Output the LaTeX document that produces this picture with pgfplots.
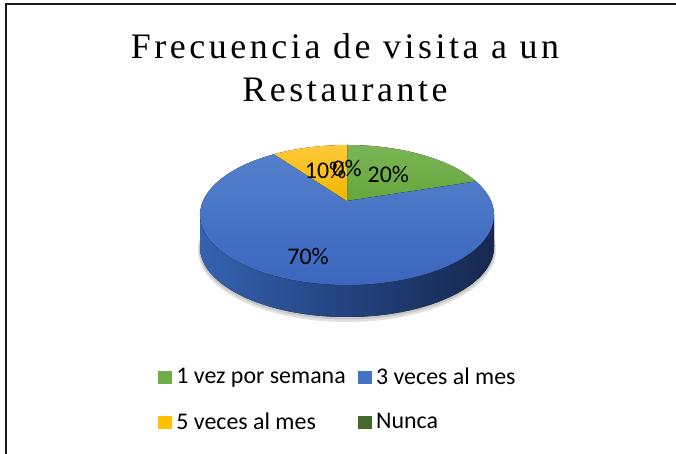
\documentclass[border=0pt]{standalone}
\usepackage{pgfplots}
\pgfplotsset{compat=1.18}
\usepackage{pgfplotstable}
\usepackage{fontspec}
\setmainfont{Carlito}
\newfontfamily\titlefont[LetterSpace=10]{Liberation Serif}

\definecolor{cVerde}{HTML}{70AD47}
\definecolor{cVerdeA}{HTML}{7BB556}
\definecolor{cVerdeB}{HTML}{66A73D}
\definecolor{cAzul}{HTML}{4472C4}
\definecolor{cAzulA}{HTML}{5380CC}
\definecolor{cAzulB}{HTML}{3864BC}
\definecolor{cAmar}{HTML}{FFC000}
\definecolor{cAmarA}{HTML}{FFC93A}
\definecolor{cAmarB}{HTML}{F2B700}
\definecolor{cOscuro}{HTML}{43682B}
\definecolor{sideL}{HTML}{3562B0}
\definecolor{sideM}{HTML}{23427E}
\definecolor{sideR}{HTML}{16284E}

\pgfplotstableread{
etiqueta valor
1 20
3 70
5 10
N 0
}\datos

\newcommand\lblfont{\fontsize{24}{28}\selectfont}

% slice: options, start angle (true), end angle (true)
\newcommand\slice[3]{%
  \pgfmathsetmacro\sA{atan2(sin(#2)+\ee, cos(#2)*\kk)}%
  \pgfmathsetmacro\sB{atan2(sin(#3)+\ee, cos(#3)*\kk)}%
  \pgfmathparse{\sB>\sA ? \sB-360 : \sB}\let\sB\pgfmathresult
  \edef\tmp{\noexpand\fill[#1] (axis cs:\cx,\ay) -- (axis cs:{\cx+\rx*cos(\sA)},{\cy+\ry*sin(\sA)}) arc[start angle=\sA, end angle=\sB, x radius=\rx bp, y radius=\ry bp] -- cycle;}%
  \tmp}
% label: text, mid angle (true), relative radius
\newcommand\lbl[3]{%
  \pgfmathsetmacro\lx{#3*cos(#2)}%
  \pgfmathsetmacro\ly{#3*sin(#2)}%
  \pgfmathsetmacro\dd{1+\ee*\ly}%
  \pgfmathsetmacro\px{\cx+\rx*\lx*\kk/\dd}%
  \pgfmathsetmacro\py{\cy+\ry*(\ly+\ee)/\dd}%
  \edef\tmp{\noexpand\node[font=\noexpand\lblfont, inner sep=0pt] at (axis cs:\px,\py) {\unexpanded{#1}};}%
  \tmp}

\begin{document}
\begin{tikzpicture}
\pgfplotstablegetelem{0}{valor}\of\datos \edef\vA{\pgfplotsretval}
\pgfplotstablegetelem{1}{valor}\of\datos \edef\vB{\pgfplotsretval}
\pgfplotstablegetelem{2}{valor}\of\datos \edef\vC{\pgfplotsretval}
\pgfplotstablegetelem{3}{valor}\of\datos \edef\vD{\pgfplotsretval}
\def\cx{347}\def\cy{239}\def\rx{147}\def\ry{70}\def\ee{0.2}\def\dep{32}
\pgfmathsetmacro\kk{sqrt(1-\ee*\ee)}
\pgfmathsetmacro\ay{\cy+\ry*\ee}
\pgfmathsetmacro\tA{90}
\pgfmathsetmacro\tB{\tA-3.6*\vA}
\pgfmathsetmacro\tC{\tB-3.6*\vB}
\pgfmathsetmacro\tD{\tC-3.6*\vC}
\pgfmathsetmacro\tE{\tD-3.6*\vD}
\begin{axis}[
  x=1bp, y=1bp, xmin=0, xmax=676, ymin=0, ymax=454,
  hide axis, clip=true,
  legend image code/.code={\fill[#1] (0bp,-6bp) rectangle (13bp,6bp);},
  legend columns=2,
  legend cell align=left,
  legend style={draw=none, fill=none, inner sep=0pt, outer sep=0pt,
    at={(axis description cs:0.2337,0.120)}, anchor=west,
    font=\lblfont, row sep=27bp,
    nodes={inner sep=0pt},
    /tikz/every odd column/.append style={column sep=5bp},
    /tikz/every even column/.append style={column sep=12bp}},
]
\fill[white] (axis cs:0,0) rectangle (axis cs:676,454);
\draw[black!90, line width=1.6bp] (axis cs:6,0) -- (axis cs:6,450) -- (axis cs:676,450);

\node[font=\titlefont\fontsize{36}{43}\selectfont, anchor=base] at (axis cs:345,395) {Frecuencia de visita a un};
\node[font=\titlefont\fontsize{36}{43}\selectfont, anchor=base] at (axis cs:345,352) {Restaurante};

% shadow
\fill[black!12] (axis cs:\cx,{\cy-\dep-3}) ellipse[x radius=149bp, y radius=72bp];
\fill[black!22] (axis cs:\cx,{\cy-\dep-1.5}) ellipse[x radius=148bp, y radius=71bp];
% side
\fill[left color=sideL, right color=sideR, middle color=sideM]
  (axis cs:{\cx-\rx},\cy) arc[start angle=180, end angle=360, x radius=\rx bp, y radius=\ry bp]
  -- ++(0bp,-\dep bp) arc[start angle=0, end angle=-180, x radius=\rx bp, y radius=\ry bp] -- cycle;
% top slices
\slice{top color=cVerdeA, bottom color=cVerdeB}{\tA}{\tB}
\slice{top color=cAzulA, bottom color=cAzulB}{\tB}{\tC}
\slice{top color=cAmarA, bottom color=cAmarB}{\tC}{\tD}
\slice{cOscuro}{\tD}{\tE}
% labels
\lbl{\vA\%}{(\tA+\tB)/2}{0.53}
\lbl{\vB\%}{(\tB+\tC)/2}{0.75}
\lbl{\vC\%}{(\tC+\tD)/2}{0.53}
\lbl{\vD\%}{(\tD+\tE)/2}{0.53}

\addlegendimage{cVerde}\addlegendentry{1 vez por semana}
\addlegendimage{cAzul}\addlegendentry{3 veces al mes}
\addlegendimage{cAmar}\addlegendentry{5 veces al mes}
\addlegendimage{cOscuro}\addlegendentry{Nunca}
\end{axis}
\end{tikzpicture}
\end{document}
